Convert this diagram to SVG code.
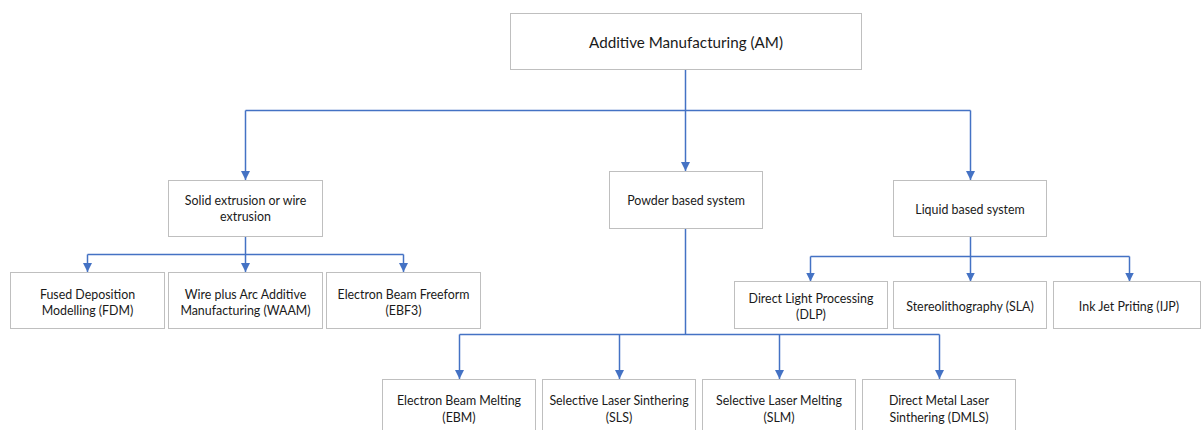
<svg xmlns="http://www.w3.org/2000/svg" width="1201" height="430" viewBox="0 0 1201 430">
  <style>
    .box { fill: #ffffff; stroke: #bfbfbf; stroke-width: 1; }
    .lbl { font-family: Lato, "Liberation Sans", Arial, sans-serif; font-size: 12.4px; fill: #1a1a1a; text-anchor: middle; }
    .title { font-size: 15.2px; }
    .wire { fill: none; stroke: #4472c4; stroke-width: 1.5; }
  </style>
  <defs>
    <marker id="arrow" viewBox="0 0 10 10" refX="10" refY="5" markerWidth="6" markerHeight="6" markerUnits="strokeWidth" orient="auto">
      <path d="M0,0 L10,5 L0,10 z" fill="#4472c4"/>
    </marker>
  </defs>
  <rect width="1201" height="430" fill="#ffffff"/>

  <g id="connectors">
    <!-- root to the three families -->
    <path class="wire" d="M685.5,69 V110.5"/>
    <path class="wire" d="M245.5,110.5 H970.5"/>
    <path class="wire" d="M245.5,110.5 V180" marker-end="url(#arrow)"/>
    <path class="wire" d="M685.5,110.5 V171" marker-end="url(#arrow)"/>
    <path class="wire" d="M970.5,110.5 V180" marker-end="url(#arrow)"/>
    <!-- extrusion family -->
    <path class="wire" d="M245.5,237 V254.5"/>
    <path class="wire" d="M87.5,254.5 H403.5"/>
    <path class="wire" d="M87.5,254.5 V272" marker-end="url(#arrow)"/>
    <path class="wire" d="M245.5,254.5 V272" marker-end="url(#arrow)"/>
    <path class="wire" d="M403.5,254.5 V272" marker-end="url(#arrow)"/>
    <!-- powder family -->
    <path class="wire" d="M685.5,228 V334.5"/>
    <path class="wire" d="M459.5,334.5 H939.5"/>
    <path class="wire" d="M459.5,334.5 V379" marker-end="url(#arrow)"/>
    <path class="wire" d="M619.5,334.5 V379" marker-end="url(#arrow)"/>
    <path class="wire" d="M779.5,334.5 V379" marker-end="url(#arrow)"/>
    <path class="wire" d="M939.5,334.5 V379" marker-end="url(#arrow)"/>
    <!-- liquid family -->
    <path class="wire" d="M970.5,237 V256.5"/>
    <path class="wire" d="M810.5,256.5 H1129.5"/>
    <path class="wire" d="M810.5,256.5 V281.5" marker-end="url(#arrow)"/>
    <path class="wire" d="M970.5,256.5 V281.5" marker-end="url(#arrow)"/>
    <path class="wire" d="M1129.5,256.5 V281.5" marker-end="url(#arrow)"/>
  </g>

  <g id="am">
    <rect class="box" x="510.5" y="13.5" width="351" height="56"/>
    <text class="lbl title" x="686" y="47.5">Additive Manufacturing (AM)</text>
  </g>

  <g id="solid">
    <rect class="box" x="168.5" y="180.5" width="154" height="56"/>
    <text class="lbl" x="245.5" y="205">Solid extrusion or wire</text>
    <text class="lbl" x="245.5" y="221">extrusion</text>
  </g>
  <g id="powder">
    <rect class="box" x="609.5" y="171.5" width="153" height="57"/>
    <text class="lbl" x="686" y="204.5">Powder based system</text>
  </g>
  <g id="liquid">
    <rect class="box" x="893.5" y="180.5" width="153" height="56"/>
    <text class="lbl" x="970" y="213.5">Liquid based system</text>
  </g>

  <g id="fdm">
    <rect class="box" x="10.5" y="272.5" width="154" height="56"/>
    <text class="lbl" x="87.5" y="298.5">Fused Deposition</text>
    <text class="lbl" x="87.5" y="315">Modelling (FDM)</text>
  </g>
  <g id="waam">
    <rect class="box" x="168.5" y="272.5" width="154" height="56"/>
    <text class="lbl" x="245.5" y="298.5">Wire plus Arc Additive</text>
    <text class="lbl" x="245.5" y="315">Manufacturing (WAAM)</text>
  </g>
  <g id="ebf3">
    <rect class="box" x="326.5" y="272.5" width="154" height="56"/>
    <text class="lbl" x="403.5" y="298.5">Electron Beam Freeform</text>
    <text class="lbl" x="403.5" y="315">(EBF3)</text>
  </g>

  <g id="dlp">
    <rect class="box" x="734.5" y="281.5" width="153" height="47"/>
    <text class="lbl" x="811" y="302.5">Direct Light Processing</text>
    <text class="lbl" x="811" y="318.5">(DLP)</text>
  </g>
  <g id="sla">
    <rect class="box" x="893.5" y="281.5" width="153" height="47"/>
    <text class="lbl" x="970" y="310.5">Stereolithography (SLA)</text>
  </g>
  <g id="ijp">
    <rect class="box" x="1053.5" y="281.5" width="147" height="47"/>
    <text class="lbl" x="1129" y="310.5">Ink Jet Priting (IJP)</text>
  </g>

  <g id="ebm">
    <rect class="box" x="382.5" y="379.5" width="153" height="56"/>
    <text class="lbl" x="459" y="404.5">Electron Beam Melting</text>
    <text class="lbl" x="459" y="421.5">(EBM)</text>
  </g>
  <g id="sls">
    <rect class="box" x="542.5" y="379.5" width="153" height="56"/>
    <text class="lbl" x="619" y="404.5">Selective Laser Sinthering</text>
    <text class="lbl" x="619" y="421.5">(SLS)</text>
  </g>
  <g id="slm">
    <rect class="box" x="702.5" y="379.5" width="153" height="56"/>
    <text class="lbl" x="779" y="404.5">Selective Laser Melting</text>
    <text class="lbl" x="779" y="421.5">(SLM)</text>
  </g>
  <g id="dmls">
    <rect class="box" x="862.5" y="379.5" width="153" height="56"/>
    <text class="lbl" x="939" y="404.5">Direct Metal Laser</text>
    <text class="lbl" x="939" y="421.5">Sinthering (DMLS)</text>
  </g>
</svg>
